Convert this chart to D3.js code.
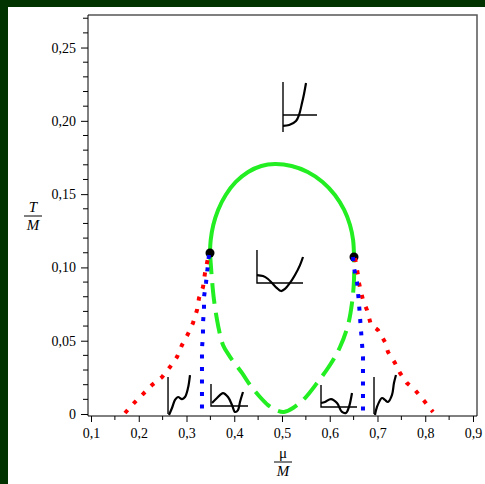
<!DOCTYPE html>
<html><head><meta charset="utf-8">
<script src="https://cdn.jsdelivr.net/npm/d3@7"></script>
<style>
html,body{margin:0;padding:0;background:#003300;}
svg{display:block;}
</style></head>
<body>
<svg id="chart" width="485" height="484"></svg>
<script>
// ---------- data ----------
const xTicks = [0.1,0.2,0.3,0.4,0.5,0.6,0.7,0.8,0.9];
const xTickLabels = ["0,1","0,2","0,3","0,4","0,5","0,6","0,7","0,8","0,9"];
const yTicks = [0,0.05,0.10,0.15,0.20,0.25];
const yTickLabels = ["0","0,05","0,10","0,15","0,20","0,25"];

// green solid (upper) branch [mu/M, T/M]
const greenUpper = [[0.3492,0.1098],[0.3507,0.1187],[0.3561,0.1289],[0.3662,0.1392],[0.3821,0.1494],[0.4032,0.1583],[0.4290,0.1651],[0.4566,0.1692],[0.4853,0.1705],[0.5201,0.1692],[0.5538,0.1651],[0.5850,0.1583],[0.6108,0.1494],[0.6302,0.1392],[0.6424,0.1289],[0.6489,0.1187],[0.6508,0.1071]];
// green dashed (lower) branch
const greenLower = [[0.3492,0.1098],[0.3534,0.0914],[0.3576,0.0778],[0.3660,0.0607],[0.3764,0.0471],[0.3911,0.0390],[0.4162,0.0280],[0.4330,0.0198],[0.4539,0.0116],[0.4707,0.0061],[0.4874,0.0027],[0.5042,0.0014],[0.5230,0.0041],[0.5482,0.0109],[0.5733,0.0211],[0.6005,0.0334],[0.6215,0.0457],[0.6382,0.0607],[0.6466,0.0757],[0.6508,0.0914],[0.6508,0.1071]];
// red dotted branches
const redLeft = [[0.1712,0.0007],[0.1900,0.0075],[0.2089,0.0136],[0.2277,0.0198],[0.2487,0.0252],[0.2654,0.0321],[0.2801,0.0389],[0.2906,0.0471],[0.3031,0.0546],[0.3136,0.0621],[0.3220,0.0709],[0.3262,0.0791],[0.3346,0.0866],[0.3387,0.0962],[0.3429,0.1030],[0.3471,0.1098]];
const redRight = [[0.6529,0.1064],[0.6591,0.0948],[0.6612,0.0894],[0.6696,0.0778],[0.6780,0.0709],[0.6864,0.0607],[0.7010,0.0573],[0.7157,0.0491],[0.7220,0.0423],[0.7366,0.0348],[0.7471,0.0280],[0.7618,0.0211],[0.7785,0.0164],[0.7995,0.0082],[0.8162,0.0014]];
// blue dotted branches
const blueLeft = [[0.3471,0.1085],[0.3408,0.0894],[0.3366,0.0798],[0.3366,0.0709],[0.3345,0.0621],[0.3345,0.0532],[0.3324,0.0450],[0.3324,0.0355],[0.3324,0.0273],[0.3324,0.0184],[0.3324,0.0102],[0.3324,0.0014]];
const blueRight = [[0.6487,0.1071],[0.6508,0.0996],[0.6571,0.0900],[0.6591,0.0832],[0.6612,0.0757],[0.6633,0.0662],[0.6654,0.0573],[0.6675,0.0484],[0.6696,0.0389],[0.6696,0.0300],[0.6696,0.0198],[0.6696,0.0116],[0.6696,0.0014]];
// critical points
const critPoints = [[0.3492,0.1098],[0.6508,0.1071]];

// potential sketches: axes (polylines) and curve
const insetAxes = [
  [[0.5021,0.2265],[0.5021,0.1924]], [[0.5021,0.2040],[0.5733,0.2040]],
  [[0.4476,0.1119],[0.4476,0.0894],[0.5440,0.0894]],
  [[0.2613,0.0252],[0.2613,0.0000]],
  [[0.3513,0.0205],[0.3513,0.0055],[0.4288,0.0055]],
  [[0.5817,0.0198],[0.5817,0.0048],[0.6571,0.0048]],
  [[0.6927,0.0252],[0.6927,0.0000]]
];
const insetCurves = [
  [[0.5021,0.1965],[0.5150,0.1971],[0.5293,0.1999],[0.5356,0.2040],[0.5419,0.2121],[0.5461,0.2183],[0.5503,0.2258]],
  [[0.4476,0.0948],[0.4602,0.0941],[0.4707,0.0921],[0.4791,0.0894],[0.4895,0.0859],[0.4979,0.0839],[0.5063,0.0853],[0.5167,0.0894],[0.5272,0.0948],[0.5377,0.1016],[0.5440,0.1071]],
  [[0.2633,-0.0007],[0.2696,0.0041],[0.2759,0.0096],[0.2822,0.0116],[0.2906,0.0102],[0.2968,0.0116],[0.3031,0.0177],[0.3073,0.0266]],
  [[0.3534,0.0075],[0.3639,0.0109],[0.3764,0.0143],[0.3869,0.0116],[0.3953,0.0061],[0.4016,0.0014],[0.4078,0.0027],[0.4120,0.0082],[0.4183,0.0150]],
  [[0.5817,0.0075],[0.5900,0.0082],[0.6026,0.0102],[0.6152,0.0075],[0.6256,0.0014],[0.6340,0.0007],[0.6403,0.0048],[0.6466,0.0143]],
  [[0.6947,-0.0007],[0.6989,0.0048],[0.7094,0.0109],[0.7157,0.0096],[0.7220,0.0082],[0.7304,0.0130],[0.7345,0.0211],[0.7387,0.0266]]
];

// ---------- drawing ----------
const svg = d3.select("#chart");
const L = 88, R = 477, T = 15, B = 416;
svg.append("rect").attr("x",8).attr("y",7).attr("width",477).attr("height",477).attr("fill","#ffffff");

const x = d3.scaleLinear().domain([0.0937,0.9084]).range([L,R]);
const y = d3.scaleLinear().domain([-0.00136,0.2722]).range([B,T]);
const line = d3.line().x(d=>x(d[0])).y(d=>y(d[1]));
const smooth = d3.line().x(d=>x(d[0])).y(d=>y(d[1])).curve(d3.curveCatmullRom);
const font = "'Liberation Serif','Times New Roman',serif";

// frame
svg.append("path").attr("d",`M${L},${T}H${R}V${B}`).attr("fill","none").attr("stroke","#555").attr("stroke-width",1.5);

// axes
const xAxis = d3.axisBottom(x).tickValues(xTicks).tickFormat((d,i)=>xTickLabels[i]).tickSize(6).tickPadding(6);
const gx = svg.append("g").attr("transform",`translate(0,${B})`).call(xAxis);
gx.select(".domain").remove();
gx.selectAll("text").attr("font-family",font).attr("font-size",14).attr("fill","#000");
gx.selectAll("line").attr("stroke","#000");
const xMinor = d3.range(0.15,0.91,0.1);
svg.append("g").selectAll("line").data(xMinor).join("line")
  .attr("x1",d=>x(d)).attr("x2",d=>x(d)).attr("y1",B).attr("y2",B+4).attr("stroke","#000");

const yAxis = d3.axisLeft(y).tickValues(yTicks).tickFormat((d,i)=>yTickLabels[i]).tickSize(7).tickPadding(5);
const gy = svg.append("g").attr("transform",`translate(${L},0)`).call(yAxis);
gy.select(".domain").remove();
gy.selectAll("text").attr("font-family",font).attr("font-size",14).attr("fill","#000");
gy.selectAll("line").attr("stroke","#000");
const yMinor = d3.range(0,28).map(i=>i*0.01).filter(v=>Math.round(v*100)%5!==0);
svg.append("g").selectAll("line").data(yMinor).join("line")
  .attr("x1",L-5).attr("x2",L).attr("y1",d=>y(d)).attr("y2",d=>y(d)).attr("stroke","#000");

svg.append("line").attr("x1",L).attr("x2",L).attr("y1",T).attr("y2",B).attr("stroke","#000");
svg.append("line").attr("x1",L).attr("x2",R).attr("y1",B).attr("y2",B).attr("stroke","#000");

// axis titles (fractions)
function frac(cx, cy, top, bottom, topItalic){
  const g = svg.append("g").attr("font-family",font).attr("font-size",15).attr("fill","#000").attr("text-anchor","middle");
  g.append("text").attr("x",cx).attr("y",cy-4).attr("font-style",topItalic?"italic":"normal").text(top);
  g.append("line").attr("x1",cx-9).attr("x2",cx+9).attr("y1",cy).attr("y2",cy).attr("stroke","#000").attr("stroke-width",1);
  g.append("text").attr("x",cx).attr("y",cy+14).attr("font-style","italic").text(bottom);
}
frac(33, 216, "T", "M", true);
frac(283, 462, "μ", "M", false);

// green curves
svg.append("path").datum(greenUpper).attr("d",smooth).attr("fill","none").attr("stroke","#22ee22").attr("stroke-width",4);
svg.append("path").datum(greenLower).attr("d",smooth).attr("fill","none").attr("stroke","#22ee22").attr("stroke-width",4).attr("stroke-dasharray","21,9");

// critical points
svg.append("g").selectAll("circle").data(critPoints).join("circle")
  .attr("cx",d=>x(d[0])).attr("cy",d=>y(d[1])).attr("r",4.5).attr("fill","#000");

// red & blue dotted
[[redLeft,"#ff0000"],[redRight,"#ff0000"],[blueLeft,"#0000ff"],[blueRight,"#0000ff"]].forEach(([d,c])=>{
  svg.append("path").datum(d).attr("d",line).attr("fill","none").attr("stroke",c).attr("stroke-width",4).attr("stroke-dasharray","4,8.5");
});

// insets
svg.append("g").selectAll("path").data(insetAxes).join("path")
  .attr("d",line).attr("fill","none").attr("stroke","#000").attr("stroke-width",1.4);
svg.append("g").selectAll("path").data(insetCurves).join("path")
  .attr("d",smooth).attr("fill","none").attr("stroke","#000").attr("stroke-width",2.2);
</script>
</body></html>
